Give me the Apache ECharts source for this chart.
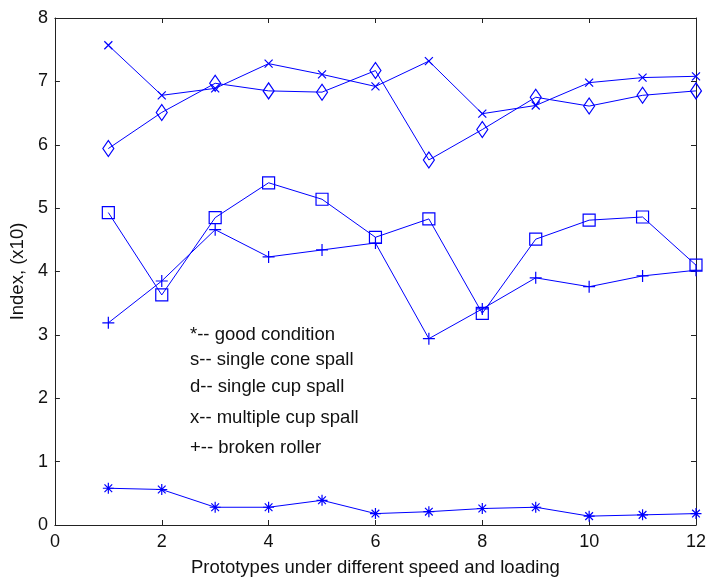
<!DOCTYPE html>
<html>
<head>
<meta charset="utf-8">
<script src="https://cdn.jsdelivr.net/npm/echarts@6/dist/echarts.min.js"></script>
<style>html,body{margin:0;padding:0;background:#fff;}#c{width:709px;height:582px;}</style>
</head>
<body>
<div id="c"></div>
<script>
const prototypes = [1,2,3,4,5,6,7,8,9,10,11,12];
const goodCondition = [0.58,0.56,0.28,0.28,0.39,0.18,0.21,0.26,0.28,0.14,0.16,0.18];
const singleConeSpall = [4.93,3.63,4.85,5.40,5.14,4.54,4.83,3.34,4.51,4.81,4.86,4.10];
const singleCupSpall = [5.94,6.51,6.97,6.85,6.83,7.17,5.76,6.24,6.75,6.61,6.78,6.85];
const multipleCupSpall = [7.57,6.78,6.89,7.28,7.11,6.92,7.32,6.49,6.62,6.98,7.06,7.08];
const brokenRoller = [3.19,3.85,4.66,4.23,4.34,4.45,2.94,3.41,3.90,3.76,3.93,4.02];
const annotations = ['*-- good condition','s-- single cone spall','d-- single cup spall','x-- multiple cup spall','+-- broken roller'];
const xTitle = 'Prototypes under different speed and loading';
const yTitle = 'Index, (x10)';

const BLUE = '#0000ff';
const FONT = '"Liberation Sans", Arial, sans-serif';
const pair = v => prototypes.map((x,i)=>[x,v[i]]);

const SYM_PLUS = 'path://M0,5L10,5M5,0L5,10';
const SYM_X = 'path://M0,0L10,10M10,0L0,10';
const SYM_STAR = 'path://M0,5L10,5M5,0L5,10M1.5,1.5L8.5,8.5M8.5,1.5L1.5,8.5';

function mk(name, data, symbol, size){
  return {
    name, type:'line', data: pair(data), symbol, symbolSize: size,
    lineStyle:{color:BLUE, width:1},
    itemStyle:{color:'rgba(0,0,0,0)', borderColor:BLUE, borderWidth:1.2},
    showAllSymbol:true, animation:false, clip:false, z:3
  };
}

const chart = echarts.init(document.getElementById('c'), null, {renderer:'canvas'});
const axisBase = () => ({
  axisLine:{show:true, onZero:false, lineStyle:{color:'#222', width:1}},
  axisTick:{show:true, inside:true, length:5, lineStyle:{color:'#222'}},
  splitLine:{show:false}
});
chart.setOption({
  backgroundColor:'#fff',
  animation:false,
  grid:{left:54, top:18, right:11, bottom:57},
  xAxis:[
    Object.assign({type:'value', min:0, max:12, interval:2, position:'bottom',
      name: xTitle, nameLocation:'middle', nameGap:33,
      nameTextStyle:{color:'#111', fontSize:18.5, fontFamily:FONT},
      axisLabel:{color:'#111', fontSize:18, fontFamily:FONT, margin:8}}, axisBase()),
    Object.assign({type:'value', min:0, max:12, interval:2, position:'top',
      axisLabel:{show:false}}, axisBase())
  ],
  yAxis:[
    Object.assign({type:'value', min:0, max:8, interval:1, position:'left',
      name: yTitle, nameLocation:'middle', nameGap:25, nameRotate:90,
      nameTextStyle:{color:'#111', fontSize:18.5, fontFamily:FONT},
      axisLabel:{color:'#111', fontSize:18, fontFamily:FONT, margin:7}}, axisBase()),
    Object.assign({type:'value', min:0, max:8, interval:1, position:'right',
      axisLabel:{show:false}}, axisBase())
  ],
  series:[
    mk('good condition', goodCondition, SYM_STAR, 11),
    mk('single cone spall', singleConeSpall, 'rect', 12),
    mk('single cup spall', singleCupSpall, 'diamond', [11,16]),
    mk('multiple cup spall', multipleCupSpall, SYM_X, 8),
    mk('broken roller', brokenRoller, SYM_PLUS, 12)
  ],
  graphic: annotations.map((t,i)=>({
    type:'text', x:190, y:[335,360,387,418,448][i],
    style:{text:t, fill:'#111', fontSize:18.5, fontFamily:FONT, verticalAlign:'middle'}
  }))
});
</script>
</body>
</html>
